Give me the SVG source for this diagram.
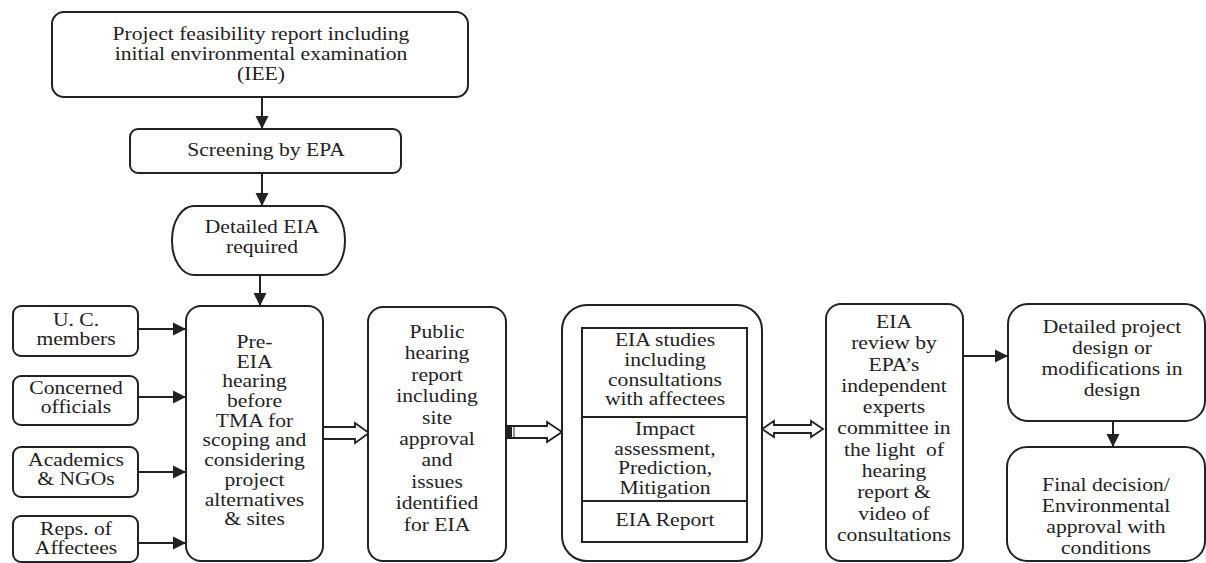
<svg xmlns="http://www.w3.org/2000/svg" width="1206" height="563" viewBox="0 0 1206 563">
<style>
.box{fill:#fff;stroke:#222;stroke-width:2}
.ln{fill:none;stroke:#222;stroke-width:2}
.hol{fill:#fff;stroke:#222;stroke-width:1.8;stroke-linejoin:miter}
text{font-family:"Liberation Serif","Times New Roman",serif;font-size:18px;fill:#222;text-anchor:middle}
</style>
<defs>
<marker id="ah" markerUnits="userSpaceOnUse" markerWidth="14" markerHeight="14" refX="13" refY="7" orient="auto">
<path d="M0,0.5 L13,7 L0,13.5 Z" fill="#222"/>
</marker>
</defs>
<rect width="1206" height="563" fill="#fff"/>

<g id="connectors">
<line class="ln" x1="262" y1="97" x2="262" y2="129" marker-end="url(#ah)"/>
<line class="ln" x1="262" y1="173" x2="262" y2="206" marker-end="url(#ah)"/>
<line class="ln" x1="260" y1="275" x2="260" y2="306" marker-end="url(#ah)"/>
<line class="ln" x1="138" y1="329" x2="186" y2="329" marker-end="url(#ah)"/>
<line class="ln" x1="138" y1="397" x2="186" y2="397" marker-end="url(#ah)"/>
<line class="ln" x1="138" y1="472" x2="186" y2="472" marker-end="url(#ah)"/>
<line class="ln" x1="138" y1="543" x2="186" y2="543" marker-end="url(#ah)"/>
<polygon class="hol" points="323,427 355,427 355,423 369,433 355,443 355,439 323,439"/>
<polygon class="hol" points="506,426 547,426 547,422 562,432 547,442 547,438 506,438"/>
<rect x="506" y="426" width="6" height="12" fill="#222"/>
<line x1="514" y1="426" x2="514" y2="438" stroke="#222" stroke-width="1"/>
<polygon class="hol" points="762,429 774,421 774,425 811,425 811,421 823,429 811,437 811,433 774,433 774,437"/>
<line class="ln" x1="963" y1="356" x2="1008" y2="356" marker-end="url(#ah)"/>
<line class="ln" x1="1113" y1="421" x2="1113" y2="447" marker-end="url(#ah)"/>
</g>

<g id="feasibility">
<rect class="box" x="52" y="12" width="416" height="85" rx="12"/>
<text transform="translate(261,40) scale(1.2,1)"><tspan x="0">Project feasibility report including</tspan><tspan x="0" dy="20">initial environmental examination</tspan><tspan x="0" dy="20">(IEE)</tspan></text>
</g>

<g id="screening">
<rect class="box" x="130" y="129" width="271" height="44" rx="8"/>
<text transform="translate(266,156) scale(1.2,1)">Screening by EPA</text>
</g>

<g id="detailed-eia">
<rect class="box" x="172" y="206" width="173" height="69" rx="22" ry="34"/>
<text transform="translate(262,233) scale(1.2,1)"><tspan x="0">Detailed EIA</tspan><tspan x="0" dy="20">required</tspan></text>
</g>

<g id="uc-members">
<rect class="box" x="13" y="306" width="125" height="50" rx="8"/>
<text transform="translate(76,326) scale(1.2,1)"><tspan x="0">U. C.</tspan><tspan x="0" dy="19">members</tspan></text>
</g>

<g id="concerned-officials">
<rect class="box" x="13" y="376" width="125" height="49" rx="8"/>
<text transform="translate(76,394) scale(1.2,1)"><tspan x="0">Concerned</tspan><tspan x="0" dy="19">officials</tspan></text>
</g>

<g id="academics">
<rect class="box" x="13" y="447" width="125" height="50" rx="8"/>
<text transform="translate(76,466) scale(1.2,1)"><tspan x="0">Academics</tspan><tspan x="0" dy="19">&amp; NGOs</tspan></text>
</g>

<g id="reps">
<rect class="box" x="13" y="516" width="125" height="46" rx="8"/>
<text transform="translate(76,535) scale(1.2,1)"><tspan x="0">Reps. of</tspan><tspan x="0" dy="19">Affectees</tspan></text>
</g>

<g id="pre-eia">
<rect class="box" x="186" y="306" width="137" height="255" rx="15"/>
<text transform="translate(254.5,348) scale(1.2,1)"><tspan x="0">Pre-</tspan><tspan x="0" dy="19.7">EIA</tspan><tspan x="0" dy="19.7">hearing</tspan><tspan x="0" dy="19.7">before</tspan><tspan x="0" dy="19.7">TMA for</tspan><tspan x="0" dy="19.7">scoping and</tspan><tspan x="0" dy="19.7">considering</tspan><tspan x="0" dy="19.7">project</tspan><tspan x="0" dy="19.7">alternatives</tspan><tspan x="0" dy="19.7">&amp; sites</tspan></text>
</g>

<g id="public-hearing">
<rect class="box" x="368" y="307" width="138" height="254" rx="15"/>
<text transform="translate(437,338) scale(1.2,1)"><tspan x="0">Public</tspan><tspan x="0" dy="21.4">hearing</tspan><tspan x="0" dy="21.4">report</tspan><tspan x="0" dy="21.4">including</tspan><tspan x="0" dy="21.4">site</tspan><tspan x="0" dy="21.4">approval</tspan><tspan x="0" dy="21.4">and</tspan><tspan x="0" dy="21.4">issues</tspan><tspan x="0" dy="21.4">identified</tspan><tspan x="0" dy="21.4">for EIA</tspan></text>
</g>

<g id="eia-studies">
<rect class="box" x="562" y="305" width="200" height="256" rx="25"/>
<rect class="box" x="582" y="328" width="165" height="214" rx="0"/>
<line class="ln" x1="582" y1="417" x2="747" y2="417"/>
<line class="ln" x1="582" y1="501" x2="747" y2="501"/>
<text transform="translate(665,346) scale(1.2,1)"><tspan x="0">EIA studies</tspan><tspan x="0" dy="20">including</tspan><tspan x="0" dy="20">consultations</tspan><tspan x="0" dy="19.5">with affectees</tspan></text>
<text transform="translate(665,435) scale(1.2,1)"><tspan x="0">Impact</tspan><tspan x="0" dy="19.7">assessment,</tspan><tspan x="0" dy="19.7">Prediction,</tspan><tspan x="0" dy="19.7">Mitigation</tspan></text>
<text transform="translate(665,526) scale(1.2,1)">EIA Report</text>
</g>

<g id="eia-review">
<rect class="box" x="826" y="304" width="137" height="257" rx="15"/>
<text transform="translate(894,328) scale(1.2,1)"><tspan x="0">EIA</tspan><tspan x="0" dy="21.3">review by</tspan><tspan x="0" dy="21.3">EPA’s</tspan><tspan x="0" dy="21.3">independent</tspan><tspan x="0" dy="21.3">experts</tspan><tspan x="0" dy="21.3">committee in</tspan><tspan x="0" dy="21.3">the light&#160; of</tspan><tspan x="0" dy="21.3">hearing</tspan><tspan x="0" dy="21.3">report &amp;</tspan><tspan x="0" dy="21.3">video of</tspan><tspan x="0" dy="21.3">consultations</tspan></text>
</g>

<g id="detailed-design">
<rect class="box" x="1008" y="304" width="197" height="117" rx="20"/>
<text transform="translate(1112,333) scale(1.2,1)"><tspan x="0">Detailed project</tspan><tspan x="0" dy="21">design or</tspan><tspan x="0" dy="21">modifications in</tspan><tspan x="0" dy="21">design</tspan></text>
</g>

<g id="final-decision">
<rect class="box" x="1007" y="447" width="198" height="114" rx="20"/>
<text transform="translate(1106,491) scale(1.2,1)"><tspan x="0">Final decision/</tspan><tspan x="0" dy="21">Environmental</tspan><tspan x="0" dy="21">approval with</tspan><tspan x="0" dy="21">conditions</tspan></text>
</g>
</svg>
